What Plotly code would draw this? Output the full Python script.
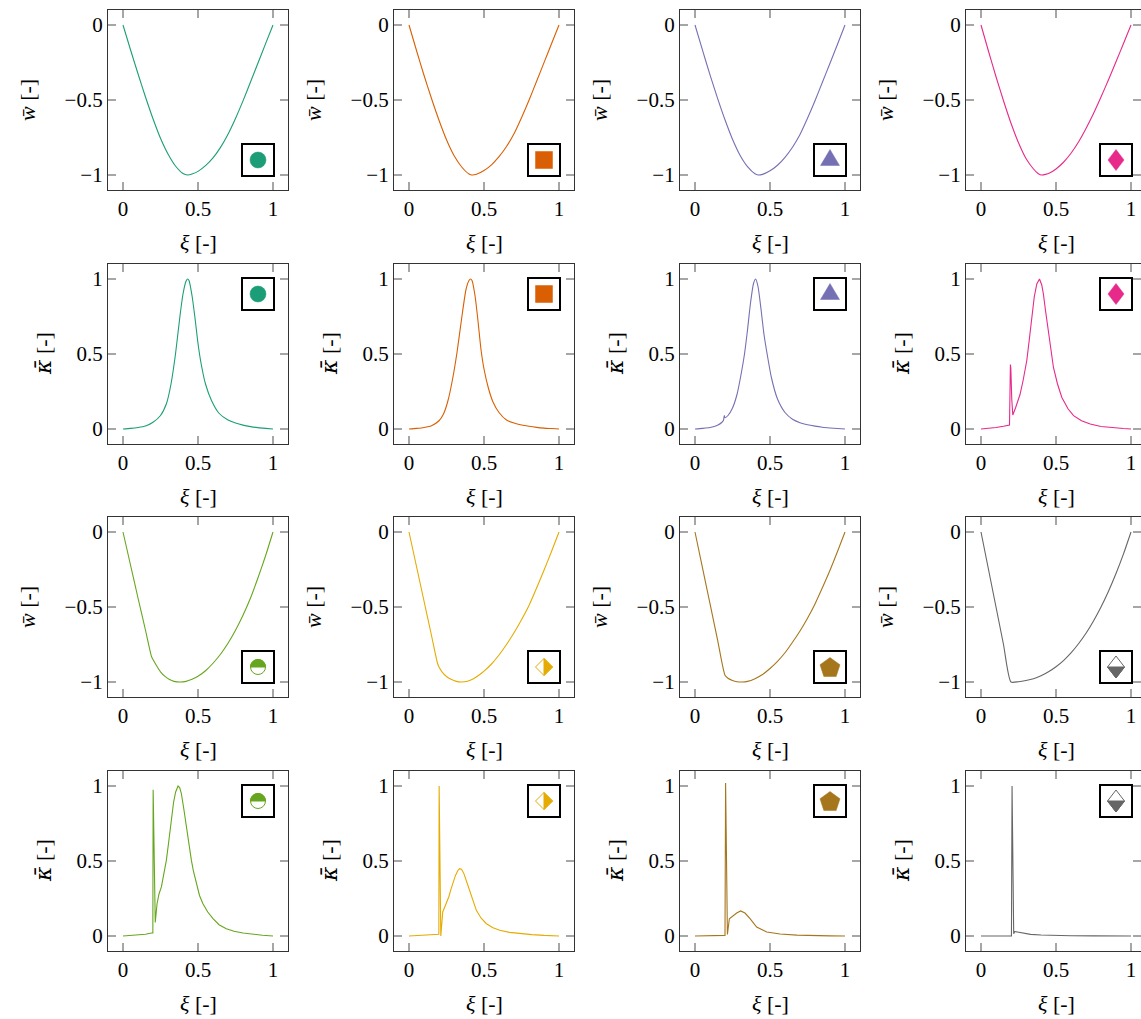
import numpy as np
import plotly.graph_objects as go

# ---------------- data ----------------
# Row 1 : normalised deflection w
xi_w_teal = [0, .05, .1, .15, .2, .25, .3, .35, .4, .43, .46, .5, .55, .6, .65, .7, .75, .8, .85, .9, .95, 1]
w_teal = [0, -.165, -.325, -.48, -.625, -.755, -.86, -.94, -.99, -1, -.994, -.976, -.938, -.886, -.816, -.728, -.623, -.506, -.38, -.253, -.126, 0]
xi_w_orange = [0, .05, .1, .15, .2, .25, .3, .35, .4, .42, .45, .5, .55, .6, .65, .7, .75, .8, .85, .9, .95, 1]
w_orange = [0, -.17, -.335, -.49, -.635, -.765, -.87, -.945, -.993, -1, -.995, -.97, -.932, -.878, -.81, -.725, -.618, -.502, -.377, -.251, -.125, 0]
xi_w_purple = [0, .05, .1, .15, .2, .25, .3, .35, .4, .42, .45, .5, .55, .6, .65, .7, .75, .8, .85, .9, .95, 1]
w_purple = [0, -.168, -.332, -.487, -.632, -.762, -.868, -.944, -.992, -1, -.996, -.972, -.935, -.882, -.815, -.73, -.622, -.505, -.38, -.255, -.128, 0]
xi_w_pink = [0, .05, .1, .15, .2, .25, .3, .35, .38, .4, .43, .46, .5, .55, .6, .65, .7, .75, .8, .85, .9, .95, 1]
w_pink = [0, -.175, -.345, -.505, -.655, -.785, -.89, -.96, -.99, -1, -.996, -.985, -.96, -.915, -.855, -.78, -.69, -.59, -.48, -.365, -.245, -.123, 0]

# Row 2 : normalised curvature kappa
xi_k_teal = [0, .05, .1, .15, .2, .25, .29, .32, .35, .38, .4, .42, .43, .44, .46, .48, .5, .52, .55, .59, .64, .7, .75, .8, .85, .9, .95, 1]
k_teal = [0, .004, .01, .02, .045, .09, .17, .3, .5, .755, .9, .985, 1, .99, .89, .74, .57, .44, .3, .19, .105, .06, .04, .026, .016, .009, .004, 0]
xi_k_orange = [0, .05, .1, .15, .2, .23, .26, .29, .32, .35, .38, .4, .41, .42, .44, .46, .48, .5, .53, .56, .6, .65, .7, .75, .8, .85, .9, .95, 1]
k_orange = [0, .004, .01, .022, .055, .1, .19, .33, .51, .73, .93, .99, 1, .99, .89, .72, .53, .4, .27, .18, .11, .06, .04, .027, .018, .011, .006, .003, 0]
xi_k_purple = [0, .05, .1, .15, .18, .19, .195, .2, .22, .25, .28, .31, .33, .35, .37, .39, .404, .42, .44, .46, .486, .51, .55, .6, .65, .7, .75, .8, .85, .9, .95, 1]
k_purple = [0, .004, .01, .025, .045, .058, .09, .075, .09, .14, .23, .38, .5, .66, .84, .97, 1, .95, .8, .63, .47, .34, .2, .11, .065, .042, .028, .019, .012, .007, .003, 0]
xi_k_pink = [0, .05, .1, .15, .19, .196, .199, .205, .212, .23, .26, .28, .305, .32, .339, .355, .372, .39, .405, .416, .43, .45, .483, .51, .539, .58, .617, .67, .728, .8, .884, .95, 1]
k_pink = [0, .004, .01, .018, .027, .43, .4, .2, .093, .14, .23, .32, .455, .58, .744, .88, .967, 1, .96, .9, .79, .633, .41, .3, .21, .135, .089, .055, .033, .017, .007, .003, 0]

# Row 3 : normalised deflection w
xi_w_green = [0, .05, .1, .15, .19, .2, .22, .25, .28, .31, .34, .38, .42, .46, .5, .55, .6, .65, .7, .75, .8, .85, .9, .95, 1]
w_green = [0, -.22, -.44, -.655, -.83, -.85, -.885, -.932, -.963, -.984, -.996, -1, -.996, -.982, -.962, -.925, -.875, -.815, -.742, -.655, -.555, -.44, -.305, -.16, 0]
xi_w_yellow = [0, .05, .1, .15, .19, .2, .22, .25, .28, .31, .35, .39, .43, .47, .5, .55, .6, .65, .7, .75, .8, .85, .9, .95, 1]
w_yellow = [0, -.23, -.46, -.69, -.875, -.9, -.932, -.963, -.982, -.994, -1, -.995, -.978, -.952, -.928, -.88, -.82, -.75, -.672, -.585, -.49, -.375, -.255, -.13, 0]
xi_w_brown = [0, .05, .1, .15, .2, .22, .25, .28, .315, .35, .4, .45, .5, .55, .6, .65, .7, .75, .8, .85, .9, .95, 1]
w_brown = [0, -.239, -.478, -.717, -.955, -.975, -.99, -.998, -1, -.996, -.978, -.95, -.91, -.862, -.805, -.735, -.66, -.575, -.48, -.37, -.255, -.13, 0]
xi_w_grey = [0, .05, .1, .15, .2, .25, .3, .35, .4, .45, .5, .55, .6, .65, .7, .75, .8, .85, .9, .95, 1]
w_grey = [0, -.25, -.5, -.75, -1, -.998, -.99, -.978, -.958, -.932, -.898, -.857, -.806, -.745, -.675, -.593, -.5, -.395, -.277, -.146, 0]

# Row 4 : normalised curvature kappa
xi_k_green = [0, .05, .1, .15, .19, .199, .201, .208, .215, .227, .24, .256, .27, .289, .305, .322, .337, .351, .367, .378, .389, .405, .422, .44, .456, .47, .489, .51, .533, .565, .6, .64, .689, .74, .8, .87, .93, 1]
k_green = [0, .003, .007, .012, .02, .02, .975, .5, .09, .215, .28, .327, .4, .504, .63, .77, .89, .96, 1, .99, .95, .85, .727, .6, .504, .43, .35, .27, .215, .16, .116, .075, .049, .032, .02, .01, .005, 0]
xi_k_yellow = [0, .05, .1, .15, .181, .199, .201, .212, .225, .248, .265, .281, .3, .31, .325, .337, .35, .366, .385, .404, .425, .449, .48, .516, .56, .605, .67, .739, .82, .9, 1]
k_yellow = [0, .002, .004, .007, .011, .011, 1, 0, .16, .215, .26, .316, .38, .404, .435, .449, .445, .416, .36, .304, .235, .171, .12, .082, .055, .038, .024, .016, .009, .004, 0]
xi_k_brown = [0, .05, .1, .15, .189, .2, .204, .212, .216, .229, .256, .278, .304, .333, .367, .411, .478, .567, .68, .789, .9, 1]
k_brown = [0, .001, .002, .003, .004, .004, 1.02, .3, .01, .115, .138, .153, .167, .153, .116, .06, .027, .013, .006, .002, .001, 0]
xi_k_grey = [0, .05, .1, .15, .191, .203, .207, .213, .218, .225, .24, .27, .33, .4, .48, .6, .75, .9, 1]
k_grey = [0, 0, 0, 0, .001, .001, 1, .2, .015, .03, .027, .02, .011, .007, .004, .002, .001, 0, 0]

x_ticks = [0, 0.5, 1]
x_ticklabels = ["0", "0.5", "1"]
w_ticks = [-1, -0.5, 0]
w_ticklabels = ["\u22121", "\u22120.5", "0"]
k_ticks = [0, 0.5, 1]
k_ticklabels = ["0", "0.5", "1"]

colors = ["#1b9e77", "#d95f02", "#7570b3", "#e7298a", "#66a61e", "#e6ab02", "#a6761d", "#666666"]

# (row, col, xi, values, colour index, legend glyph, smooth?)
panels = [
    (0, 0, xi_w_teal, w_teal, 0, "circle", True),
    (0, 1, xi_w_orange, w_orange, 1, "square", True),
    (0, 2, xi_w_purple, w_purple, 2, "triangle", True),
    (0, 3, xi_w_pink, w_pink, 3, "diamond", True),
    (1, 0, xi_k_teal, k_teal, 0, "circle", True),
    (1, 1, xi_k_orange, k_orange, 1, "square", True),
    (1, 2, xi_k_purple, k_purple, 2, "triangle", True),
    (1, 3, xi_k_pink, k_pink, 3, "diamond", False),
    (2, 0, xi_w_green, w_green, 4, "halfcircle", True),
    (2, 1, xi_w_yellow, w_yellow, 5, "halfdiamond", True),
    (2, 2, xi_w_brown, w_brown, 6, "pentagon", True),
    (2, 3, xi_w_grey, w_grey, 7, "halfdiamond2", True),
    (3, 0, xi_k_green, k_green, 4, "halfcircle", False),
    (3, 1, xi_k_yellow, k_yellow, 5, "halfdiamond", False),
    (3, 2, xi_k_brown, k_brown, 6, "pentagon", False),
    (3, 3, xi_k_grey, k_grey, 7, "halfdiamond2", False),
]

# ---------------- layout ----------------
W, H = 1141, 1019
COL_LEFT = [108, 394, 680, 966]
ROW_TOP = [10, 264, 517, 771]
BOX = 180
PX_PER_UNIT = 150.0
FONT = "'Liberation Serif', 'Times New Roman', serif"
FRAME = "#333333"
TICKC = "#a6a6a6"

fig = go.Figure()
layout = dict(
    width=W, height=H, margin=dict(l=0, r=0, t=0, b=0),
    paper_bgcolor="white", plot_bgcolor="white", showlegend=False,
    font=dict(family=FONT, size=21, color="black"),
)
shapes = []
annotations = []


def poly(pts):
    return "M " + " L ".join(f"{x:.2f},{y:.2f}" for x, y in pts) + " Z"


def glyph_shapes(kind, color, xref, yref, ya):
    base = dict(xref=xref, yref=yref, xsizemode="pixel", ysizemode="pixel",
                xanchor=0.9, yanchor=ya)
    out = [dict(type="rect", x0=-16, x1=16, y0=-16, y1=16,
                line=dict(color="black", width=2), fillcolor="white", **base)]
    if kind == "circle":
        out.append(dict(type="circle", x0=-8, x1=8, y0=-8, y1=8,
                        line=dict(color=color, width=0.5), fillcolor=color, **base))
    elif kind == "square":
        out.append(dict(type="rect", x0=-8.5, x1=8.5, y0=-8.5, y1=8.5,
                        line=dict(color=color, width=0.5), fillcolor=color, **base))
    elif kind == "triangle":
        out.append(dict(type="path", path=poly([(-9.5, -5.5), (9.5, -5.5), (0, 10.5)]),
                        line=dict(color=color, width=0.5), fillcolor=color, **base))
    elif kind == "diamond":
        out.append(dict(type="path", path=poly([(0, 10.5), (8, 0), (0, -10.5), (-8, 0)]),
                        line=dict(color=color, width=0.5), fillcolor=color, **base))
    elif kind == "pentagon":
        ang = np.deg2rad(90 + 72 * np.arange(5))
        pts = [(10.5 * np.cos(a), 10.5 * np.sin(a) - 1) for a in ang]
        out.append(dict(type="path", path=poly(pts),
                        line=dict(color=color, width=0.5), fillcolor=color, **base))
    elif kind == "halfcircle":
        out.append(dict(type="circle", x0=-7.5, x1=7.5, y0=-7.5, y1=7.5,
                        line=dict(color=color, width=1), fillcolor="white", **base))
        ang = np.deg2rad(np.arange(0, 181, 10))
        pts = [(7.5 * np.cos(a), 7.5 * np.sin(a)) for a in ang]
        out.append(dict(type="path", path=poly(pts),
                        line=dict(color=color, width=1), fillcolor=color, **base))
    elif kind == "halfdiamond":
        out.append(dict(type="path", path=poly([(0, 8.5), (8.5, 0), (0, -8.5), (-8.5, 0)]),
                        line=dict(color=color, width=1), fillcolor="white", **base))
        out.append(dict(type="path", path=poly([(0, 8.5), (8.5, 0), (0, -8.5)]),
                        line=dict(color=color, width=1), fillcolor=color, **base))
    elif kind == "halfdiamond2":
        out.append(dict(type="path", path=poly([(0, 11), (8.5, 0), (0, -11), (-8.5, 0)]),
                        line=dict(color=color, width=1), fillcolor="white", **base))
        out.append(dict(type="path", path=poly([(-8.5, 0), (8.5, 0), (0, -11)]),
                        line=dict(color=color, width=1), fillcolor=color, **base))
    return out


W_LABEL = "<i>w\u0304</i> [-]"
K_LABEL = "<span style=\"font-family:'DejaVu Serif'\"><i>\u03ba\u0304</i></span> [-]"

for i, (r, c, xs, ys, ci, kind, smooth) in enumerate(panels):
    n = "" if i == 0 else str(i + 1)
    xref, yref = "x" + n, "y" + n
    left = COL_LEFT[c]
    right = min(left + BOX, W)
    wpx = right - left
    top = ROW_TOP[r]
    is_w = r in (0, 2)
    color = colors[ci]

    line = dict(color=color, width=1.1)
    if smooth:
        line.update(shape="spline", smoothing=0.6)
    fig.add_trace(go.Scatter(x=xs, y=ys, mode="lines", xaxis=xref, yaxis=yref,
                             line=line, hoverinfo="skip"))

    axis_common = dict(showgrid=False, zeroline=False, showline=True,
                       linecolor=FRAME, linewidth=1.1, mirror="ticks",
                       ticks="inside", ticklen=8, tickwidth=1.2, tickcolor=TICKC,
                       tickfont=dict(family=FONT, size=21, color="black"),
                       ticklabelstandoff=0, fixedrange=True)
    layout["xaxis" + n] = dict(
        domain=[left / W, right / W], anchor=yref,
        range=[-0.1, -0.1 + wpx / PX_PER_UNIT],
        tickvals=x_ticks, ticktext=x_ticklabels, **axis_common)
    layout["yaxis" + n] = dict(
        domain=[1 - (top + BOX) / H, 1 - top / H], anchor=xref,
        range=[-1.1, 0.1] if is_w else [-0.1, 1.1],
        tickvals=w_ticks if is_w else k_ticks,
        ticktext=w_ticklabels if is_w else k_ticklabels, **axis_common)

    annotations.append(dict(text="<i>\u03be</i> [-]", xref=xref + " domain", yref=yref + " domain",
                            x=(BOX / 2) / wpx, y=0, yshift=-52, xanchor="center", yanchor="middle",
                            showarrow=False, font=dict(family=FONT, size=22, color="black")))
    annotations.append(dict(text=W_LABEL if is_w else K_LABEL,
                            xref=xref + " domain", yref=yref + " domain",
                            x=0, y=0.5, xshift=-81 if is_w else -65, textangle=-90,
                            xanchor="center", yanchor="middle", showarrow=False,
                            font=dict(family=FONT, size=22, color="black")))
    shapes += glyph_shapes(kind, color, xref, yref, -0.9 if is_w else 0.9)

layout["shapes"] = shapes
layout["annotations"] = annotations
fig.update_layout(**layout)
fig.write_html("out.html",
               config={"displayModeBar": False, "staticPlot": True},
               post_script="document.body.style.margin='0px';document.body.style.padding='0px';")
